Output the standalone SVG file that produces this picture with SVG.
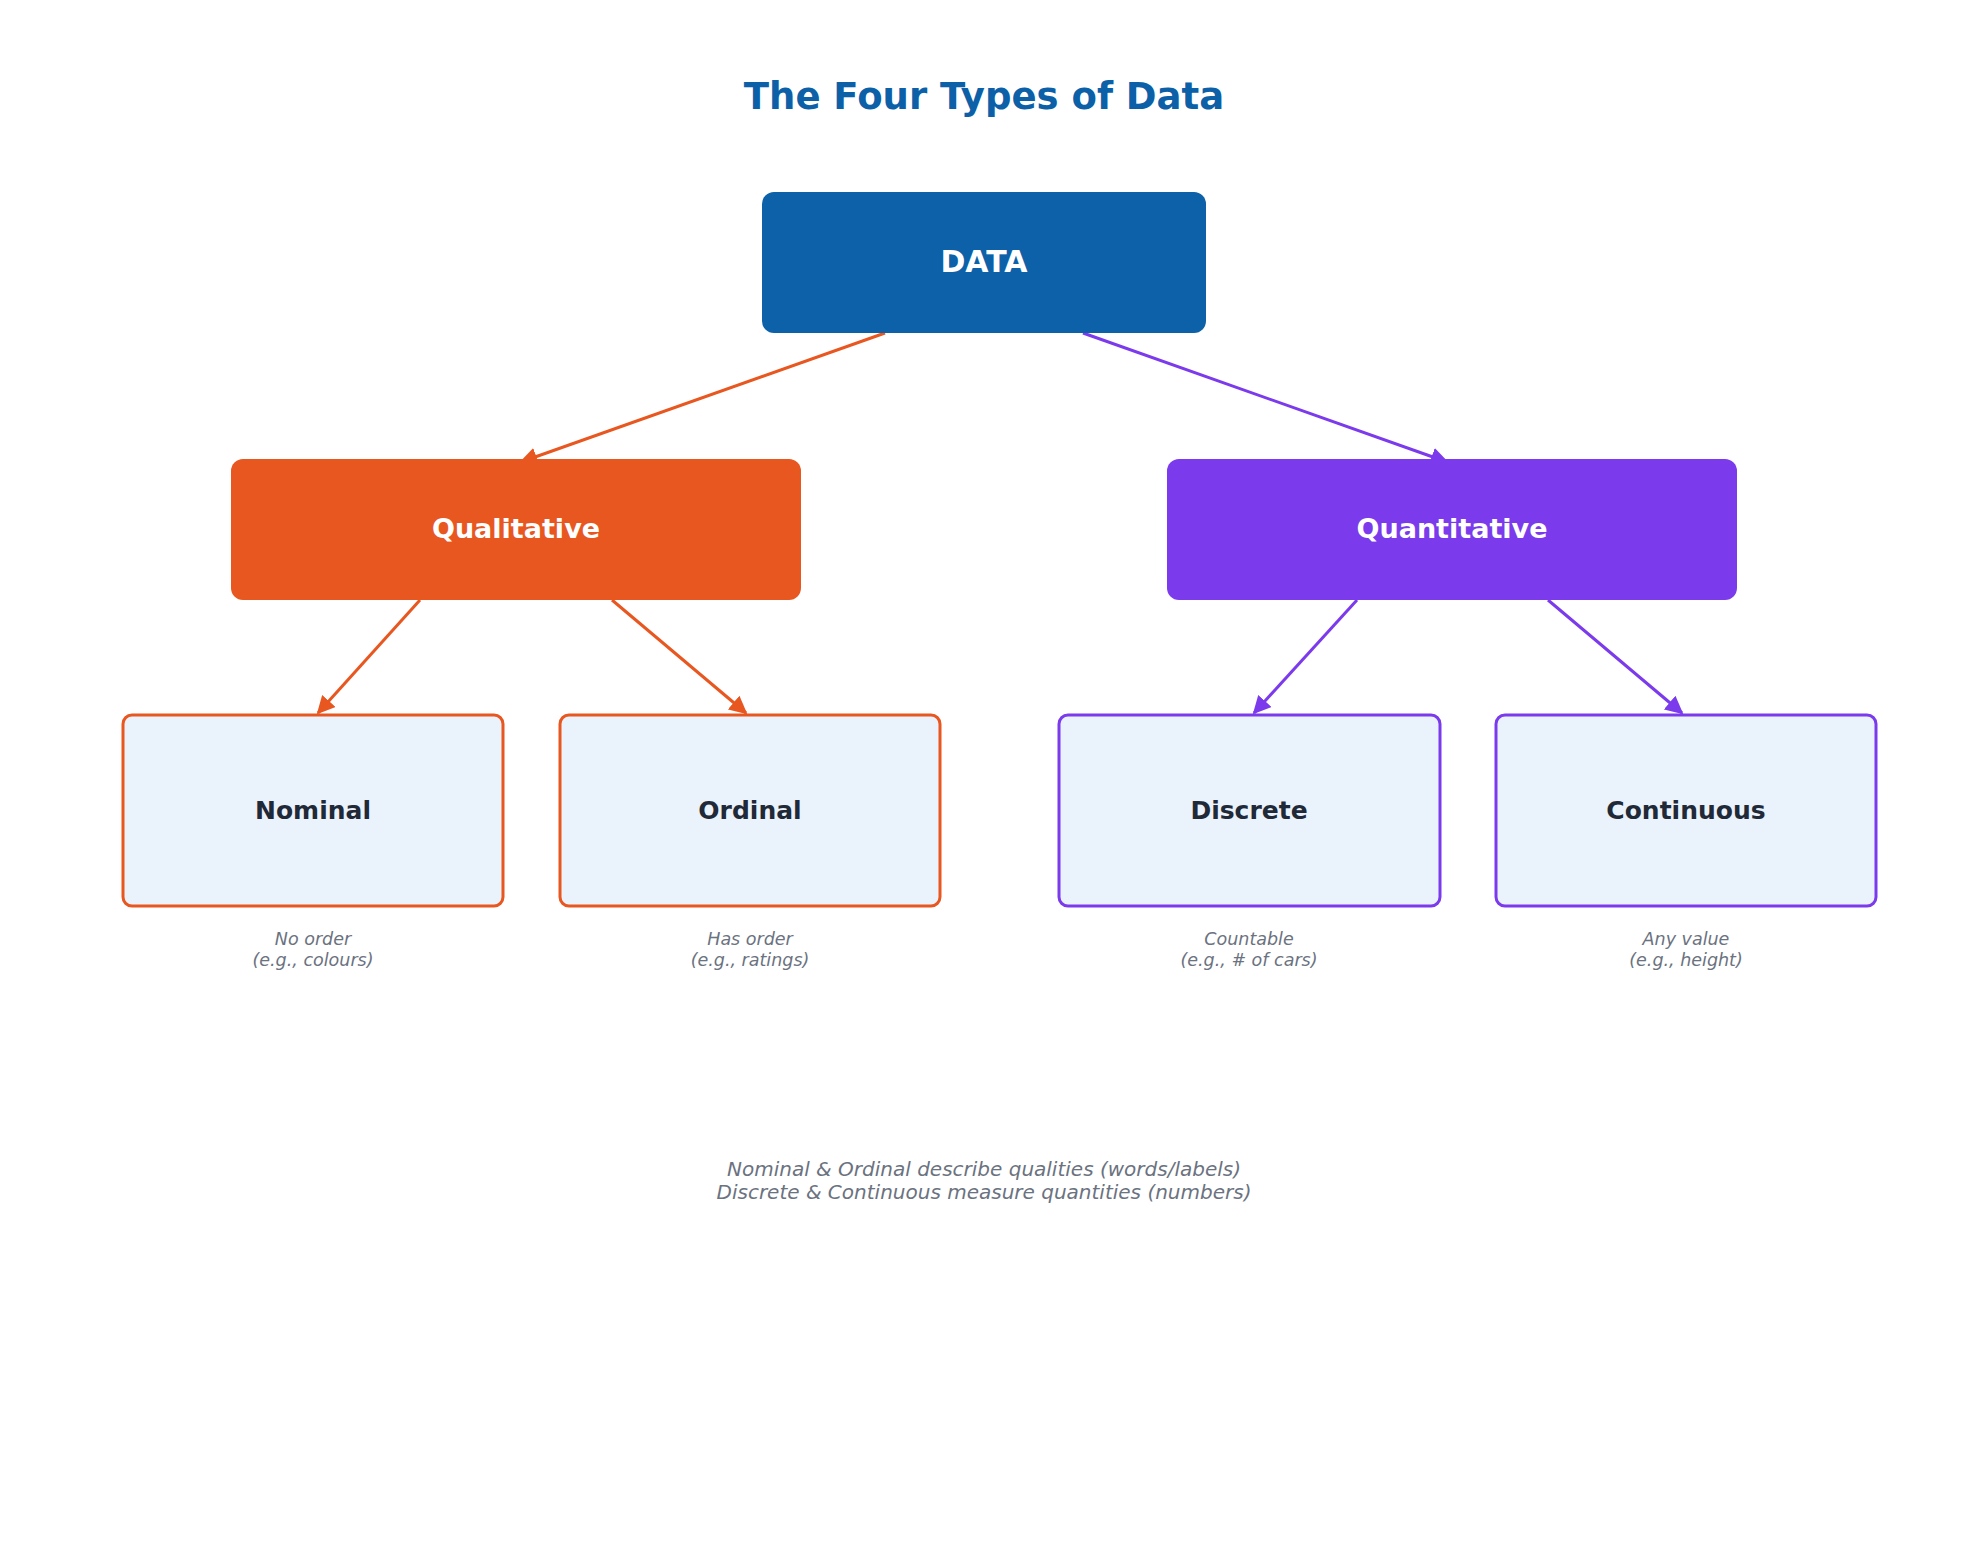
<svg xmlns="http://www.w3.org/2000/svg" width="1968" height="1568" viewBox="0 0 1968 1568">
<style>
text{font-family:"DejaVu Sans","Noto Sans",sans-serif;text-anchor:middle}
.leaf{fill:#eaf2fb;stroke-width:3}
.lt{font-size:25px;font-weight:bold;fill:#1f2937}
.sub{font-size:17.5px;font-style:italic;fill:#6b7280}
.ht{font-size:27px;font-weight:bold;fill:#fff}
</style>
<defs>
<marker id="ao" viewBox="0 0 10 10" refX="9" refY="5" markerWidth="6" markerHeight="6" orient="auto"><path d="M0,0L10,5L0,10z" fill="#e85720"/></marker>
<marker id="ap" viewBox="0 0 10 10" refX="9" refY="5" markerWidth="6" markerHeight="6" orient="auto"><path d="M0,0L10,5L0,10z" fill="#7b3aec"/></marker>
</defs>
<rect width="1968" height="1568" fill="#fff"/>
<text x="984" y="109" font-size="37" font-weight="bold" fill="#0b60a7">The Four Types of Data</text>
<g id="connectors" stroke-width="3" fill="none">
<line x1="885" y1="333" x2="521" y2="462" stroke="#e85720" marker-end="url(#ao)"/>
<line x1="1083" y1="333" x2="1447" y2="462" stroke="#7b3aec" marker-end="url(#ap)"/>
<line x1="420" y1="600" x2="318" y2="713" stroke="#e85720" marker-end="url(#ao)"/>
<line x1="612" y1="600" x2="746" y2="713" stroke="#e85720" marker-end="url(#ao)"/>
<line x1="1357" y1="600" x2="1254" y2="713" stroke="#7b3aec" marker-end="url(#ap)"/>
<line x1="1548" y1="600" x2="1682" y2="713" stroke="#7b3aec" marker-end="url(#ap)"/>
</g>
<g id="data"><rect x="762" y="192" width="444" height="141" rx="12" fill="#0c61a8"/><text x="984" y="272" font-size="30" font-weight="bold" fill="#fff">DATA</text></g>
<g id="qualitative"><rect x="231" y="459" width="570" height="141" rx="12" fill="#e85720"/><text class="ht" x="516" y="538">Qualitative</text></g>
<g id="quantitative"><rect x="1167" y="459" width="570" height="141" rx="12" fill="#7b3aec"/><text class="ht" x="1452" y="538">Quantitative</text></g>
<g id="nominal"><rect class="leaf" x="123" y="715" width="380" height="191" rx="9" stroke="#e85720"/><text class="lt" x="313" y="819">Nominal</text><text class="sub" x="313" y="945">No order</text><text class="sub" x="313" y="966">(e.g., colours)</text></g>
<g id="ordinal"><rect class="leaf" x="560" y="715" width="380" height="191" rx="9" stroke="#e85720"/><text class="lt" x="750" y="819">Ordinal</text><text class="sub" x="750" y="945">Has order</text><text class="sub" x="750" y="966">(e.g., ratings)</text></g>
<g id="discrete"><rect class="leaf" x="1059" y="715" width="381" height="191" rx="9" stroke="#7b3aec"/><text class="lt" x="1249" y="819">Discrete</text><text class="sub" x="1249" y="945">Countable</text><text class="sub" x="1249" y="966">(e.g., # of cars)</text></g>
<g id="continuous"><rect class="leaf" x="1496" y="715" width="380" height="191" rx="9" stroke="#7b3aec"/><text class="lt" x="1686" y="819">Continuous</text><text class="sub" x="1686" y="945">Any value</text><text class="sub" x="1686" y="966">(e.g., height)</text></g>
<g id="footer" font-size="20" font-style="italic" fill="#6b7280"><text x="984" y="1176">Nominal &amp; Ordinal describe qualities (words/labels)</text><text x="984" y="1199">Discrete &amp; Continuous measure quantities (numbers)</text></g>
</svg>
